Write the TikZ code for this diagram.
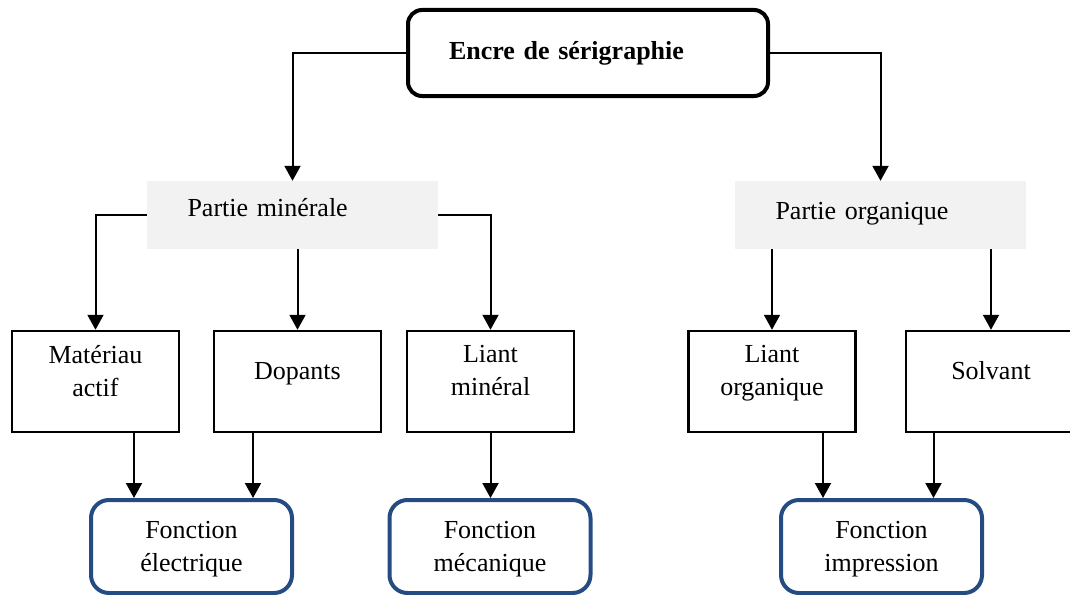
\documentclass[tikz,border=0pt]{standalone}
\usepackage{fontspec}
\setmainfont{Liberation Serif}
\usepackage{tikz}
\usetikzlibrary{arrows.meta, positioning, calc}
\definecolor{fctblue}{RGB}{37,76,130}
\definecolor{partgray}{RGB}{242,242,242}
\newcommand{\boxfont}{\fontsize{26}{33}\selectfont}
\tikzstyle{root} = [rectangle, rounded corners=14pt, minimum width=360pt, minimum height=86pt, draw=black, line width=4pt, text width=278pt, align=left, font=\boxfont\bfseries]
\tikzstyle{part} = [rectangle, minimum width=291pt, minimum height=68pt, fill=partgray, text width=210pt, align=left, text depth=16pt, font=\boxfont]
\tikzstyle{comp} = [rectangle, minimum width=167pt, minimum height=101pt, draw=black, line width=2.5pt, align=center, text depth=22pt, font=\boxfont]
\tikzstyle{fonction} = [rectangle, rounded corners=18pt, minimum width=201pt, minimum height=93pt, draw=fctblue, line width=4pt, align=center, text depth=0pt, font=\boxfont]
\tikzstyle{arrow} = [line width=2pt, -{Triangle[length=15pt, width=16pt]}]

\begin{document}
\begin{tikzpicture}[x=1pt, y=-1pt]
  \useasboundingbox (0,0) rectangle (1070,594);

  % Top box
  \node[root] (encre) at (588,53) {Encre de sérigraphie};

  % Two parts
  \node[part] (minerale) at (292.5,215) {Partie minérale};
  \node[part, text depth=8pt] (organique) at (880.5,215) {Partie organique};

  % Components
  \node[comp] (materiau) at (95.5,381.5) {Matériau\\actif};
  \node[comp] (dopants) at (297.5,381.5) {Dopants};
  \node[comp] (liantmin) at (490.5,381.5) {Liant\\minéral};
  \node[comp] (liantorg) at (772,381.5) {Liant\\organique};
  \node[comp, minimum width=170pt] (solvant) at (991,381.5) {Solvant};

  % Functions
  \node[fonction] (elec) at (191.5,546.5) {Fonction\\électrique};
  \node[fonction] (meca) at (490,546.5) {Fonction\\mécanique};
  \node[fonction] (impr) at (881.5,546.5) {Fonction\\impression};

  % Connectors
  \draw[arrow] (encre.west) -| (minerale.north);
  \draw[arrow] (encre.east) -| (organique.north);
  \draw[arrow] (minerale.west) -| (materiau.north);
  \draw[arrow] (minerale.south -| dopants.north) -- (dopants.north);
  \draw[arrow] (minerale.east) -| (liantmin.north);
  \draw[arrow] (organique.south -| liantorg.north) -- (liantorg.north);
  \draw[arrow] (organique.south -| solvant.north) -- (solvant.north);

  \draw[arrow] ([xshift=-57.5pt]elec.north |- materiau.south) -- ([xshift=-57.5pt]elec.north);
  \draw[arrow] ([xshift=61.5pt]elec.north |- dopants.south) -- ([xshift=61.5pt]elec.north);
  \draw[arrow] (liantmin.south) -- (liantmin.south |- meca.north);
  \draw[arrow] ([xshift=-58.5pt]impr.north |- liantorg.south) -- ([xshift=-58.5pt]impr.north);
  \draw[arrow] ([xshift=52pt]impr.north |- solvant.south) -- ([xshift=52pt]impr.north);
\end{tikzpicture}
\end{document}
